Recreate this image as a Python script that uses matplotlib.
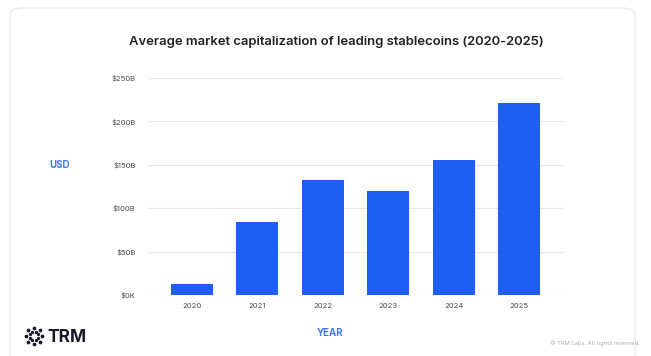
import numpy as np
import matplotlib
matplotlib.use("Agg")
import matplotlib.pyplot as plt
from matplotlib.patches import FancyBboxPatch

plt.rcParams['font.family'] = ['Inter', 'DejaVu Sans']

# average stablecoin market cap per year, billions of USD
years = ['2020', '2021', '2022', '2023', '2024', '2025']
market_cap = [12.5, 84, 132.5, 120, 155, 221]
y_ticks = [0, 50, 100, 150, 200, 250]
y_labels = ['$0K', '$50B', '$100B', '$150B', '$200B', '$250B']

bar_blue = '#1f5ef5'
label_blue = '#3d7bf7'

fig = plt.figure(figsize=(6.51, 3.56), dpi=100)
fig.patch.set_facecolor('white')

# card outline behind the chart
card = FancyBboxPatch((10 / 651, -0.05), 625 / 651, 1 - 8 / 356 + 0.05,
                      boxstyle='round,pad=0,rounding_size=0.02',
                      transform=fig.transFigure, facecolor='white',
                      edgecolor='#ececec', linewidth=1.0, zorder=-10)
fig.patches.append(card)

ax = fig.add_axes([148 / 651, 61 / 356, 415 / 651, 217 / 356])
x = np.arange(len(years))
ax.bar(x, market_cap, width=0.64, color=bar_blue, zorder=3)

ax.set_xlim(-0.67, len(years) - 1 + 0.67)
ax.set_ylim(0, 250)
ax.set_yticks(y_ticks)
ax.set_yticklabels(y_labels)
ax.set_xticks(x)
ax.set_xticklabels(years)
ax.tick_params(axis='both', length=0, labelsize=5.5, colors='#4a4a4a')
ax.tick_params(axis='y', pad=9)
ax.tick_params(axis='x', pad=6)
ax.grid(axis='y', color='#e6e6e6', linewidth=0.8, zorder=0)
for s in ax.spines.values():
    s.set_visible(False)
ax.set_facecolor('none')

fig.text(336 / 651, 1 - 42 / 356,
         'Average market capitalization of leading stablecoins (2020-2025)',
         ha='center', va='center', fontsize=9.4, fontweight='semibold',
         color='#222222')
fig.text(60 / 651, 1 - 165 / 356, 'USD', ha='center', va='center',
         fontsize=7, fontweight='bold', color=label_blue)
fig.text(330 / 651, 1 - 333 / 356, 'YEAR', ha='center', va='center',
         fontsize=7, fontweight='bold', color=label_blue)

# TRM logo: ring of dots plus wordmark
logo = fig.add_axes([24 / 651, 1 - 346 / 356, 20 / 651, 20 / 356])
ang = np.radians(np.arange(0, 360, 45))
logo.scatter(np.cos(ang) * 0.9, np.sin(ang) * 0.9, s=3, color='#1a1a2e')
logo.scatter(np.cos(ang + np.pi / 8) * 0.45, np.sin(ang + np.pi / 8) * 0.45,
             s=2, color='#1a1a2e')
logo.set_xlim(-1.1, 1.1)
logo.set_ylim(-1.1, 1.1)
logo.axis('off')
fig.text(47 / 651, 1 - 337 / 356, 'TRM', ha='left', va='center',
         fontsize=12.5, fontweight='bold', color='#1a1a2e')

fig.text(640 / 651, 1 - 343 / 356, '© TRM Labs. All rights reserved.',
         ha='right', va='center', fontsize=4.2, color='#aaaaaa')

fig.savefig('out.png', dpi=100)
